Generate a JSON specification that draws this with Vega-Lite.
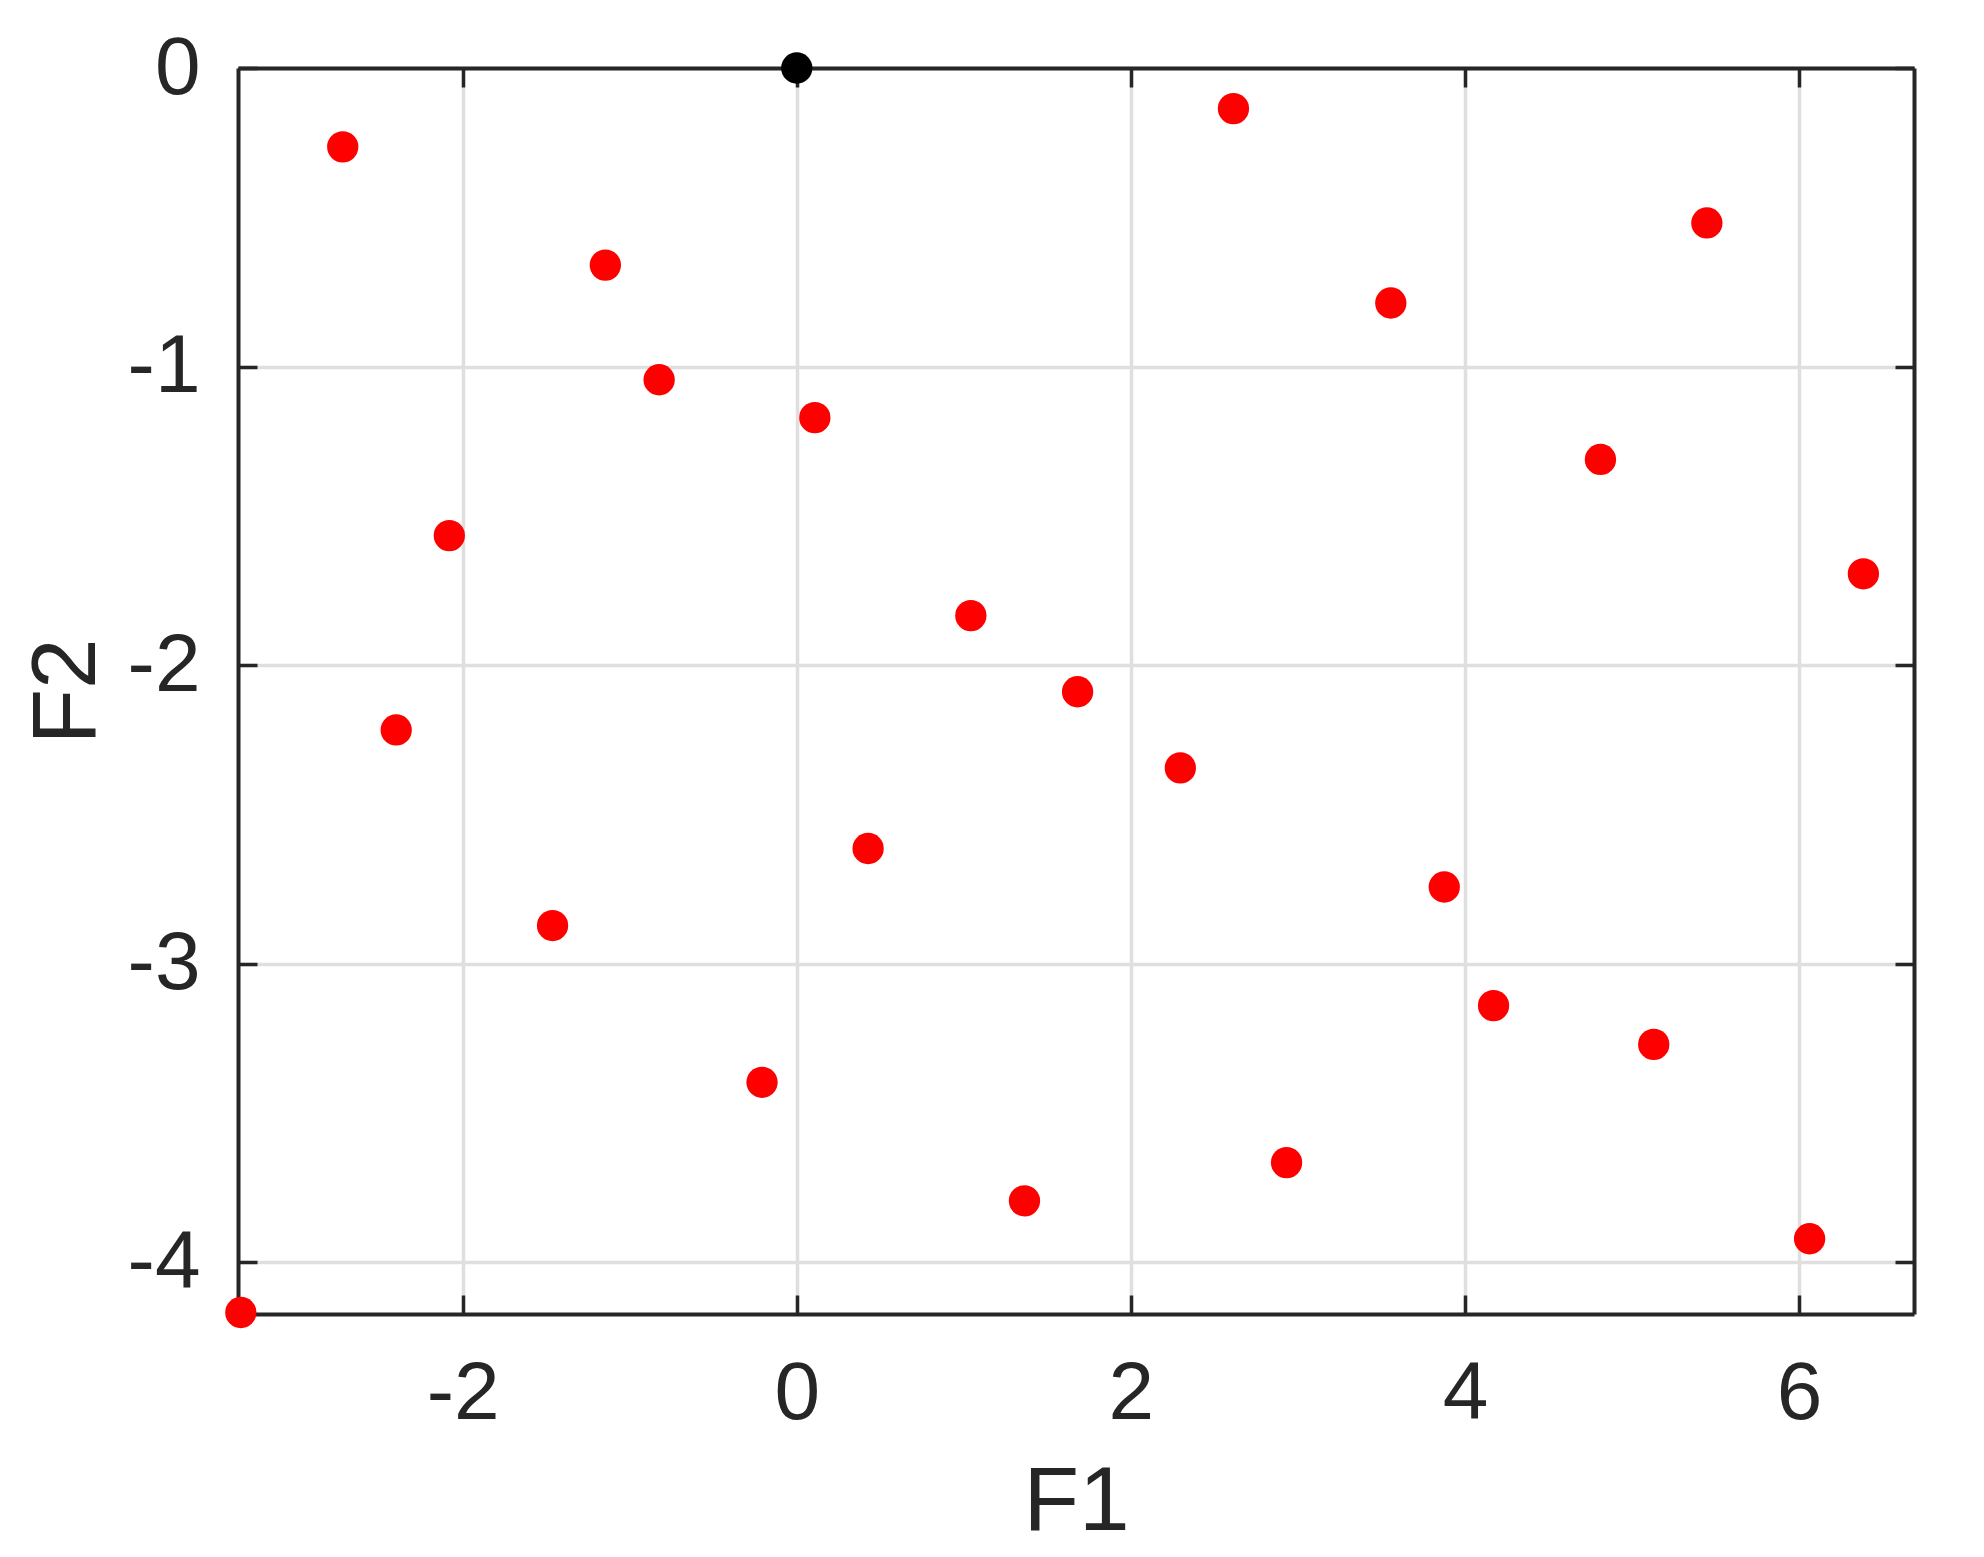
{
  "$schema": "https://vega.github.io/schema/vega-lite/v6.json",
  "autosize": {"type": "none"},
  "padding": {"left": 238, "top": 68, "right": 70, "bottom": 243},
  "width": 1676,
  "height": 1246,
  "background": "white",
  "config": {
    "view": {"stroke": null},
    "font": "Liberation Sans",
    "axis": {
      "domainColor": "#262626",
      "domainWidth": 4,
      "tickColor": "#262626",
      "tickWidth": 3.5,
      "tickSize": -19,
      "gridColor": "#dfdfdf",
      "gridWidth": 3.5,
      "gridOpacity": 1,
      "labelColor": "#262626",
      "labelFont": "Liberation Sans",
      "labelFontSize": 82,
      "titleColor": "#262626",
      "titleFont": "Liberation Sans",
      "titleFontSize": 91,
      "titleFontWeight": "normal",
      "labelFlush": false,
      "labelOverlap": false
    }
  },
  "data": {
    "values": [
      {"F1": -2.718, "F2": -0.264, "g": "red"},
      {"F1": -1.146, "F2": -0.660, "g": "red"},
      {"F1": -0.824, "F2": -1.044, "g": "red"},
      {"F1": 0.108, "F2": -1.171, "g": "red"},
      {"F1": -2.080, "F2": -1.566, "g": "red"},
      {"F1": -2.398, "F2": -2.217, "g": "red"},
      {"F1": -1.462, "F2": -2.872, "g": "red"},
      {"F1": -0.208, "F2": -3.397, "g": "red"},
      {"F1": -3.328, "F2": -4.168, "g": "red"},
      {"F1": 2.614, "F2": -0.136, "g": "red"},
      {"F1": 1.042, "F2": -1.834, "g": "red"},
      {"F1": 1.681, "F2": -2.089, "g": "red"},
      {"F1": 2.296, "F2": -2.344, "g": "red"},
      {"F1": 0.427, "F2": -2.614, "g": "red"},
      {"F1": 1.363, "F2": -3.794, "g": "red"},
      {"F1": 2.932, "F2": -3.666, "g": "red"},
      {"F1": 3.556, "F2": -0.787, "g": "red"},
      {"F1": 5.448, "F2": -0.519, "g": "red"},
      {"F1": 4.811, "F2": -1.311, "g": "red"},
      {"F1": 6.385, "F2": -1.694, "g": "red"},
      {"F1": 3.876, "F2": -2.743, "g": "red"},
      {"F1": 4.171, "F2": -3.140, "g": "red"},
      {"F1": 5.130, "F2": -3.270, "g": "red"},
      {"F1": 6.063, "F2": -3.921, "g": "red"},
      {"F1": 0.0, "F2": 0.0, "g": "black"}
    ]
  },
  "layer": [
    {
      "transform": [{"filter": "datum.g === 'red'"}],
      "mark": {"type": "circle", "color": "#ff0000", "opacity": 1, "size": 980, "clip": false},
      "encoding": {
        "x": {
          "field": "F1", "type": "quantitative",
          "scale": {"domain": [-3.345, 6.688], "nice": false, "zero": false},
          "axis": {
            "orient": "bottom",
            "title": "F1",
            "values": [-2, 0, 2, 4, 6],
            "labelExpr": "'' + datum.value",
            "labelPadding": 58,
            "grid": true,
            "titleBaseline": "alphabetic",
            "titleY": 215
          }
        },
        "y": {
          "field": "F2", "type": "quantitative",
          "scale": {"domain": [-4.173, 0], "nice": false, "zero": false},
          "axis": {
            "orient": "left",
            "title": "F2",
            "values": [0, -1, -2, -3, -4],
            "labelExpr": "'' + datum.value",
            "labelPadding": 57,
            "grid": true,
            "titleBaseline": "alphabetic",
            "titleX": -144
          }
        }
      }
    },
    {
      "transform": [{"filter": "datum.g === 'black'"}],
      "mark": {"type": "circle", "color": "#000000", "opacity": 1, "size": 980, "clip": false},
      "encoding": {
        "x": {
          "field": "F1", "type": "quantitative",
          "axis": {
            "orient": "top",
            "title": null,
            "values": [-2, 0, 2, 4, 6],
            "labels": false,
            "grid": false
          }
        },
        "y": {
          "field": "F2", "type": "quantitative",
          "axis": {
            "orient": "right",
            "title": null,
            "values": [0, -1, -2, -3, -4],
            "labels": false,
            "grid": false
          }
        }
      }
    }
  ],
  "resolve": {"axis": {"x": "independent", "y": "independent"}}
}
